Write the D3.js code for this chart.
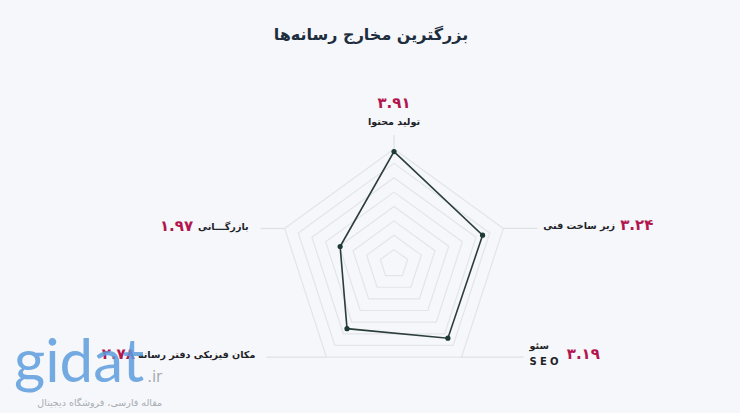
<!DOCTYPE html>
<html lang="fa">
<head>
<meta charset="utf-8">
<script src="https://cdn.jsdelivr.net/npm/d3@7"></script>
<style>
  html, body { margin: 0; padding: 0; background: #f5f7fa; }
  svg { display: block; font-family: "DejaVu Sans", sans-serif; }
</style>
</head>
<body>
<svg id="chart" width="740" height="413"></svg>
<script>
const title = "بزرگترین مخارج رسانه‌ها";
const categories = ["تولید محتوا", "زیر ساخت فنی", "سئو", "مکان فیزیکی دفتر رسانه", "بازرگـــانی"];
const subLabels = ["", "", "SEO", "", ""];
const values = [3.91, 3.24, 3.19, 2.78, 1.97];
const ringLevels = [0.5, 1, 1.5, 2, 2.5, 3, 3.5, 4];
const maxValue = 4;

const faDigits = "۰۱۲۳۴۵۶۷۸۹";
const toFa = v => d3.format(".2f")(v).replace(/[0-9]/g, d => faDigits[+d]);

const svg = d3.select("#chart");
const W = 740, H = 413;
const cx = 394, cy = 264, R = 115;
const r = d3.scaleLinear().domain([0, maxValue]).range([0, R]);
const n = categories.length;
const angle = d3.scaleLinear().domain([0, n]).range([-Math.PI / 2, 1.5 * Math.PI]);
const pt = (i, v) => [cx + r(v) * Math.cos(angle(i)), cy + r(v) * Math.sin(angle(i))];

svg.append("rect").attr("width", W).attr("height", H).attr("fill", "#f5f7fa");

// title
svg.append("text").attr("x", 371).attr("y", 40).attr("text-anchor", "middle")
  .attr("font-size", 16).attr("font-weight", "bold")
  .attr("fill", "#1e2e3e").text(title);

// grid rings
const line = d3.line().curve(d3.curveLinearClosed);
svg.append("g").selectAll("path").data(ringLevels).join("path")
  .attr("d", lv => line(d3.range(n).map(i => pt(i, lv))))
  .attr("fill", "none").attr("stroke", "#e2e5e9").attr("stroke-width", 1.2);

// leader lines from outer vertices to labels
const leaders = [
  {i: 0, dx: 0, dy: -14},
  {i: 1, dx: 34, dy: 0},
  {i: 2, dx: 62, dy: 0},
  {i: 3, dx: -60, dy: 0},
  {i: 4, dx: -24, dy: 0}
];
svg.append("g").selectAll("line").data(leaders).join("line")
  .attr("x1", d => pt(d.i, maxValue)[0]).attr("y1", d => pt(d.i, maxValue)[1])
  .attr("x2", d => pt(d.i, maxValue)[0] + d.dx).attr("y2", d => pt(d.i, maxValue)[1] + d.dy)
  .attr("stroke", "#dde0e4").attr("stroke-width", 1.2);

// data polygon
svg.append("path").attr("d", line(values.map((v, i) => pt(i, v))))
  .attr("fill", "none").attr("stroke", "#2c3e3a").attr("stroke-width", 1.6);
svg.append("g").selectAll("circle").data(values).join("circle")
  .attr("cx", (v, i) => pt(i, v)[0]).attr("cy", (v, i) => pt(i, v)[1])
  .attr("r", 2.6).attr("fill", "#1d3b33");

// labels
const numColor = "#b3164e", txtColor = "#1f2328";
const g = svg.append("g").attr("font-weight", "bold");
function label(x, y, txt, anchor, size, color) {
  return g.append("text").attr("x", x).attr("y", y).attr("text-anchor", anchor)
    .attr("dominant-baseline", "middle")
    .attr("font-size", size).attr("fill", color).text(txt);
}
const box = s => s.node().getBBox();
const o = i => pt(i, maxValue);
const LS = 9.6, NS = 15;
// top
label(o(0)[0], o(0)[1] - 46, toFa(values[0]), "middle", NS, numColor);
label(o(0)[0], o(0)[1] - 27, categories[0], "middle", LS, txtColor);
// right
const t1 = label(o(1)[0] + 40, o(1)[1] - 2, categories[1], "start", LS, txtColor);
label(box(t1).x + box(t1).width + 5, o(1)[1] - 3, toFa(values[1]), "start", NS, numColor);
// bottom right
const t2 = label(o(2)[0] + 68, o(2)[1] - 11, categories[2], "start", LS, txtColor);
const s2 = label(o(2)[0] + 68, o(2)[1] + 5, subLabels[2], "start", 10, txtColor)
  .attr("letter-spacing", 3.2);
label(Math.max(box(t2).x + box(t2).width, box(s2).x + box(s2).width) + 5, o(2)[1] - 3,
  toFa(values[2]), "start", NS, numColor);
// bottom left
const t3 = label(o(3)[0] - 71, o(3)[1] - 2, categories[3], "end", LS, txtColor);
label(box(t3).x - 3, o(3)[1] - 3, toFa(values[3]), "end", NS, numColor);
// left
const t4 = label(o(4)[0] - 36, o(4)[1] - 1, categories[4], "end", LS, txtColor);
label(box(t4).x - 5, o(4)[1] - 2, toFa(values[4]), "end", NS, numColor);

// watermark
const wm = svg.append("g").attr("opacity", 0.85);
const gt = wm.append("text").attr("x", 14).attr("y", 382).attr("font-size", 60)
  .attr("font-family", "Lato, sans-serif").attr("fill", "#5d9ddd").text("gidat");
const gEnd = 14 + gt.node().getComputedTextLength();
wm.append("text").attr("x", gEnd + 3).attr("y", 382).attr("font-size", 15)
  .attr("fill", "#9aa0a6").text(".ir");
wm.append("text").attr("x", gEnd + 18).attr("y", 406).attr("text-anchor", "end")
  .attr("font-size", 9.5).attr("fill", "#9aa0a6").text("مقاله فارسی، فروشگاه دیجیتال");
</script>
</body>
</html>
